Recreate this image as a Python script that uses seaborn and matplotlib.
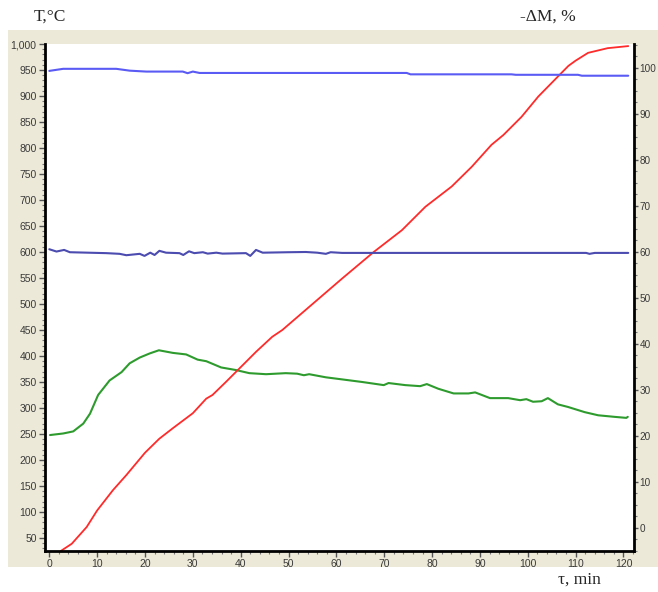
import matplotlib
matplotlib.use("Agg")
import matplotlib.pyplot as plt
import matplotlib.ticker as mticker
from matplotlib.patches import Rectangle
import seaborn as sns

# temperature curves, left axis (T, °C)
t_red = [2.4, 4.7, 7.8, 10.0, 13.3, 16.1, 20.0, 23.0, 25.8, 30.0, 32.8, 34.1, 36.9, 39.4,
         43.2, 46.6, 48.7, 61.2, 67.8, 73.7, 78.6, 84.1, 88.3, 92.4, 94.9, 98.7, 102.2,
         107.0, 108.5, 110.0, 112.6, 116.7, 121.0]
T_red = [25, 39, 71, 103, 142, 171, 214, 241, 261, 290, 318, 325, 350, 373,
         408, 437, 450, 549, 600, 642, 687, 726, 764, 806, 825, 860, 899,
         944, 958, 968, 983, 992, 996]

t_green = [0.15, 2.9, 5.0, 7.1, 8.5, 10.2, 12.6, 15.1, 16.8, 18.9, 21.0, 22.9, 25.8, 28.6,
           31.0, 32.8, 35.9, 39.0, 41.8, 45.3, 49.4, 51.8, 53.2, 54.3, 57.8, 61.2, 65.4,
           69.9, 70.9, 74.4, 77.5, 78.9, 81.3, 84.5, 87.6, 89.0, 92.1, 95.9, 98.4, 99.7,
           101.1, 102.9, 104.2, 106.3, 108.4, 111.9, 114.7, 118.1, 120.6, 120.9]
T_green = [248, 251, 255, 270, 289, 325, 353, 369, 386, 397, 405, 411, 406, 403,
           393, 390, 378, 373, 367, 365, 367, 366, 363, 365, 359, 355, 350,
           344, 348, 344, 342, 346, 337, 328, 328, 330, 319, 319, 315, 317,
           312, 313, 319, 307, 302, 292, 286, 283, 281, 283]

# mass curves, right axis (-dM, %)
t_blue_top = [0.0, 2.9, 14.0, 16.8, 20.3, 27.9, 28.9, 30.0, 31.4, 74.7, 75.5, 96.6, 97.5,
              110.5, 111.3, 121.0]
m_blue_top = [99.35, 99.8, 99.8, 99.4, 99.2, 99.2, 98.85, 99.2, 98.9, 98.9, 98.6, 98.6, 98.5,
              98.5, 98.3, 98.3]

t_blue_low = [0.0, 1.5, 3.1, 4.3, 11.9, 14.7, 16.1, 18.9, 19.9, 21.1, 22.0, 23.0, 24.4, 27.2,
              28.0, 29.2, 30.3, 32.1, 33.1, 34.9, 36.2, 41.1, 42.0, 43.2, 44.6, 50.0, 53.6,
              56.0, 57.8, 58.8, 61.2, 112.2, 112.9, 114.0, 121.0]
m_blue_low = [60.55, 60.05, 60.4, 59.9, 59.7, 59.55, 59.25, 59.55, 59.1, 59.8, 59.3, 60.2, 59.8, 59.7,
              59.3, 60.1, 59.7, 59.9, 59.6, 59.8, 59.6, 59.7, 59.1, 60.4, 59.8, 59.9, 59.95,
              59.8, 59.55, 59.9, 59.75, 59.75, 59.55, 59.75, 59.75]

sns.set_style("ticks")
plt.rcParams['font.family'] = ['Liberation Sans', 'DejaVu Sans']

fig = plt.figure(figsize=(6.58, 5.92), dpi=100)
fig.patches.append(Rectangle((8 / 658, 1 - 567 / 592), 650 / 658, 537 / 592,
                             transform=fig.transFigure, facecolor='#ECE9D8',
                             edgecolor='none', zorder=-5))

ax = fig.add_axes([45 / 658, 1 - 551 / 592, 589 / 658, 507 / 592])
ax.set_facecolor('white')
ax2 = ax.twinx()

sns.lineplot(x=t_green, y=T_green, ax=ax, color='#2E9B2E', lw=1.5)
sns.lineplot(x=t_red, y=T_red, ax=ax, color='#FF2A2A', lw=1.3)
sns.lineplot(x=t_blue_top, y=m_blue_top, ax=ax2, color='#5A5AF5', lw=1.5)
sns.lineplot(x=t_blue_low, y=m_blue_low, ax=ax2, color='#4B4BB0', lw=1.5)

ax.set_xlim(-0.9, 122.2)
ax.set_ylim(25, 1000)
ax2.set_ylim(-5.1, 105.2)

ax.xaxis.set_major_locator(mticker.MultipleLocator(10))
ax.xaxis.set_minor_locator(mticker.MultipleLocator(2))
ax.yaxis.set_major_locator(mticker.MultipleLocator(50))
ax.yaxis.set_minor_locator(mticker.MultipleLocator(10))
ax.yaxis.set_major_formatter(mticker.StrMethodFormatter('{x:,.0f}'))
ax2.yaxis.set_major_locator(mticker.MultipleLocator(10))
ax2.yaxis.set_minor_locator(mticker.MultipleLocator(2.5))

for a in (ax, ax2):
    a.set_xlabel('')
    a.set_ylabel('')
    a.grid(False)
    a.spines['top'].set_visible(False)
    a.tick_params(which='major', direction='out', length=4, width=1, color='#555555',
                  labelsize=7.5, labelcolor='#3A3A3A', pad=2)
    a.tick_params(which='minor', direction='out', length=2.5, width=0.8, color='#777777')
ax2.tick_params(which='major', length=3, pad=1, labelsize=7.2)

for s in ('left', 'bottom'):
    ax.spines[s].set_linewidth(2)
    ax.spines[s].set_color('black')
ax.spines['right'].set_visible(False)
ax2.spines['left'].set_visible(False)
ax2.spines['bottom'].set_visible(False)
ax2.spines['right'].set_linewidth(2)
ax2.spines['right'].set_color('black')

fig.text(50 / 658, 1 - 17 / 592, 'T,°C', family='Liberation Serif', fontsize=12.5,
         ha='center', va='center')
fig.text(548 / 658, 1 - 17 / 592, '-ΔM, %', family='Liberation Serif', fontsize=12.5,
         ha='center', va='center')
fig.text(579 / 658, 1 - 580 / 592, 'τ, min', family='Liberation Serif', fontsize=12.5,
         ha='center', va='center')

fig.savefig('out.png', dpi=100, facecolor='white')
